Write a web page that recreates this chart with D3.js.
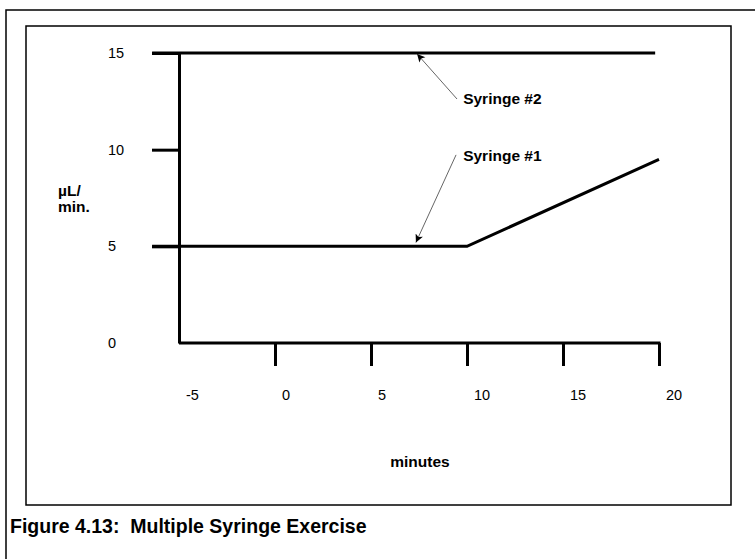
<!DOCTYPE html>
<html>
<head>
<meta charset="utf-8">
<script src="https://cdn.jsdelivr.net/npm/d3@7"></script>
<style>
  body { margin: 0; background: #fff; }
  svg { display: block; font-family: "Liberation Sans", Arial, sans-serif; }
  .pre { white-space: pre; }
</style>
</head>
<body>
<svg id="chart" width="755" height="559"></svg>
<script>
// ---- data ----
const xTickValues = [-5, 0, 5, 10, 15, 20];
const yTickValues = [0, 5, 10, 15];
const syringe1X = [-6.4, 10, 20];
const syringe1Y = [5, 5, 9.5];
const syringe2X = [-6.4, 19.8];
const syringe2Y = [15, 15];
const annotationLabels = ["Syringe #2", "Syringe #1"];
const annotationTextX = [9.8, 9.8];
const annotationTextY = [12.36, 9.42];
const arrowFromX = [9.48, 9.43];
const arrowFromY = [12.62, 9.73];
const arrowToX = [7.4, 7.34];
const arrowToY = [14.95, 5.2];
const yTitle = ["µL/", "min."];
const xTitle = "minutes";
const caption = "Figure 4.13:  Multiple Syringe Exercise";

const svg = d3.select("#chart");

// frames
svg.append("path").attr("d", "M6,559 V10 H755").attr("fill", "none").attr("stroke", "#000").attr("stroke-width", 1.5);
svg.append("rect").attr("x", 26).attr("y", 26).attr("width", 705).attr("height", 479)
  .attr("fill", "none").attr("stroke", "#000").attr("stroke-width", 1.5);

const x = d3.scaleLinear().domain([-5, 20]).range([179, 659]);
const y = d3.scaleLinear().domain([0, 15]).range([343, 53]);

// y axis
const yAxis = svg.append("g").attr("transform", `translate(${x(-5)},0)`)
  .call(d3.axisLeft(y).tickValues([5, 10, 15]).tickSize(27).tickSizeOuter(0).tickFormat(""));
yAxis.selectAll("path, line").attr("stroke", "#000").attr("stroke-width", 3);

// x axis
const xAxis = svg.append("g").attr("transform", `translate(0,${y(0)})`)
  .call(d3.axisBottom(x).tickValues(xTickValues.filter(v => v > -5)).tickSize(23).tickSizeOuter(0).tickFormat(""));
xAxis.selectAll("path, line").attr("stroke", "#000").attr("stroke-width", 3);
xAxis.select("path").attr("d", `M${x(-5)},0 H${x(20) + 1.5}`);

// tick labels
svg.append("g").selectAll("text").data(yTickValues).join("text")
  .attr("x", 108).attr("y", d => y(d) + 5)
  .attr("font-size", 14.5).attr("fill", "#000").text(d => d);
svg.append("g").selectAll("text").data(xTickValues).join("text")
  .attr("x", d => x(d) + 7).attr("y", 400)
  .attr("font-size", 14.5).attr("fill", "#000").text(d => d);

// series
const line = d3.line().x(d => x(d[0])).y(d => y(d[1]));
svg.append("path").datum(syringe2X.map((v, i) => [v, syringe2Y[i]]))
  .attr("d", line).attr("fill", "none").attr("stroke", "#000").attr("stroke-width", 3);
svg.append("path").datum(syringe1X.map((v, i) => [v, syringe1Y[i]]))
  .attr("d", line).attr("fill", "none").attr("stroke", "#000").attr("stroke-width", 3)
  .attr("stroke-linejoin", "miter");

// arrows
const defs = svg.append("defs");
defs.append("marker").attr("id", "ah").attr("viewBox", "0 0 10 10").attr("refX", 10).attr("refY", 5)
  .attr("markerWidth", 10).attr("markerHeight", 8).attr("markerUnits", "userSpaceOnUse").attr("orient", "auto")
  .append("path").attr("d", "M0,0 L10,5 L0,10 L2.5,5 Z").attr("fill", "#000");
svg.append("g").selectAll("line").data(annotationLabels).join("line")
  .attr("x1", (d, i) => x(arrowFromX[i])).attr("y1", (d, i) => y(arrowFromY[i]))
  .attr("x2", (d, i) => x(arrowToX[i])).attr("y2", (d, i) => y(arrowToY[i]))
  .attr("stroke", "#666").attr("stroke-width", 1).attr("marker-end", "url(#ah)");
svg.append("g").selectAll("text").data(annotationLabels).join("text")
  .attr("x", (d, i) => x(annotationTextX[i])).attr("y", (d, i) => y(annotationTextY[i]))
  .attr("font-size", 15.5).attr("font-weight", "bold").attr("fill", "#000").text(d => d);

// axis titles
svg.append("g").selectAll("text").data(yTitle).join("text")
  .attr("x", 58).attr("y", (d, i) => 196 + i * 15.5)
  .attr("font-size", 15.5).attr("font-weight", "bold").attr("fill", "#000").text(d => d);
svg.append("text").attr("x", 420).attr("y", 467).attr("text-anchor", "middle")
  .attr("font-size", 15.5).attr("font-weight", "bold").attr("fill", "#000").text(xTitle);

// caption
svg.append("text").attr("class", "pre").attr("x", 10).attr("y", 533)
  .attr("font-size", 19.5).attr("font-weight", "bold").attr("fill", "#000").text(caption);
</script>
</body>
</html>
